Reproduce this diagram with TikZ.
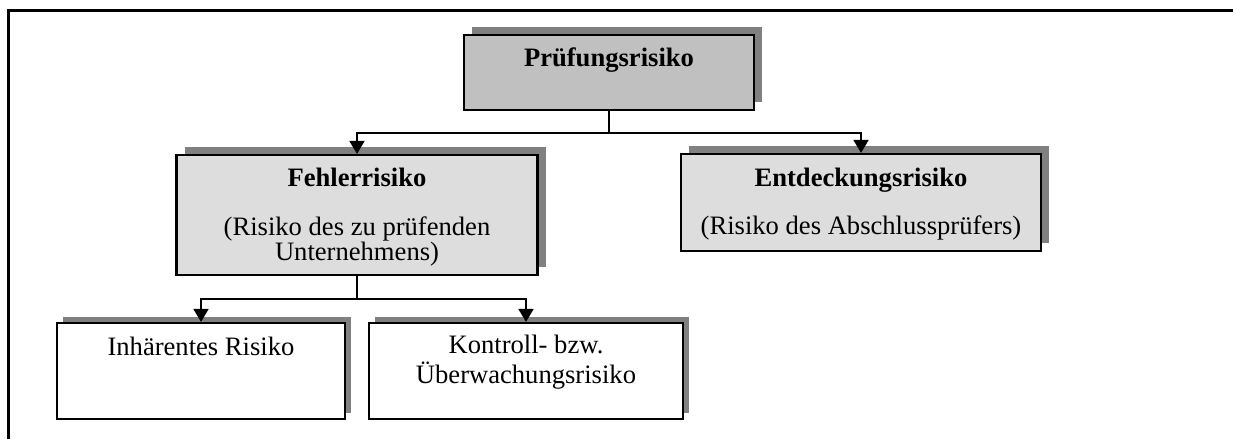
\documentclass[tikz,border=0pt]{standalone}
\usepackage{fontspec}
\setmainfont{Liberation Serif}
\usetikzlibrary{arrows.meta,shadows}
\definecolor{shadowgray}{HTML}{808080}
\definecolor{topfill}{HTML}{C0C0C0}
\definecolor{midfill}{HTML}{DDDDDD}
\tikzset{
  boxbase/.style={draw=black, line width=2.2pt, rectangle, inner sep=0pt},
  bigshadow/.style={drop shadow={shadow xshift=8pt, shadow yshift=8pt, fill=shadowgray, opacity=1}},
  smallshadow/.style={drop shadow={shadow xshift=6pt, shadow yshift=6pt, fill=shadowgray, opacity=1}},
  topbox/.style={boxbase, bigshadow, fill=topfill},
  midbox/.style={boxbase, bigshadow, fill=midfill},
  lowbox/.style={boxbase, smallshadow, fill=white},
  txt/.style={inner sep=0pt, anchor=base, font=\fontsize{26.6}{30}\selectfont},
  btxt/.style={txt, font=\fontsize{26.6}{30}\selectfont\bfseries},
  conn/.style={line width=1.8pt},
  arr/.style={conn, -{Triangle[width=15pt,length=13pt]}}
}
\begin{document}
\begin{tikzpicture}[x=1pt,y=-1pt]
\useasboundingbox (0,0) rectangle (1233,439);
% outer frame
\draw[line width=3pt] (8,439) -- (8,10) -- (1233,10);
% boxes
\node[topbox, minimum width=290pt, minimum height=75pt] (pr) at (609,72.5) {};
\node[midbox, minimum width=361pt, minimum height=120pt] (fe) at (357,215) {};
\node[midbox, minimum width=360pt, minimum height=97pt] (en) at (861,202.5) {};
\node[lowbox, minimum width=288pt, minimum height=96pt] (in) at (201,371) {};
\node[lowbox, minimum width=314pt, minimum height=96pt] (ko) at (526,371) {};
% texts
\node[btxt] (prt) at (609,66) {Prüfungsrisiko};
\node[btxt] (fet1) at (357,186) {Fehlerrisiko};
\node[txt] (fet2) at (357,235) {(Risiko des zu prüfenden};
\node[txt] (fet3) at (357,260) {Unternehmens)};
\node[btxt] (ent1) at (861,186) {Entdeckungsrisiko};
\node[txt] (ent2) at (861,234) {(Risiko des Abschlussprüfers)};
\node[txt] (int) at (201,355) {Inhärentes Risiko};
\node[txt] (kot1) at (526,353) {Kontroll- bzw.};
\node[txt] (kot2) at (526,383) {Überwachungsrisiko};
% connectors
\coordinate (j1) at (609,133);
\coordinate (j2) at (357,299);
\draw[conn] (pr.south) -- (j1);
\draw[arr] (j1) -| (fe.north);
\draw[arr] (j1) -| (en.north);
\draw[conn] (fe.south) -- (j2);
\draw[arr] (j2) -| (in.north);
\draw[arr] (j2) -| (ko.north);
\end{tikzpicture}
\end{document}
